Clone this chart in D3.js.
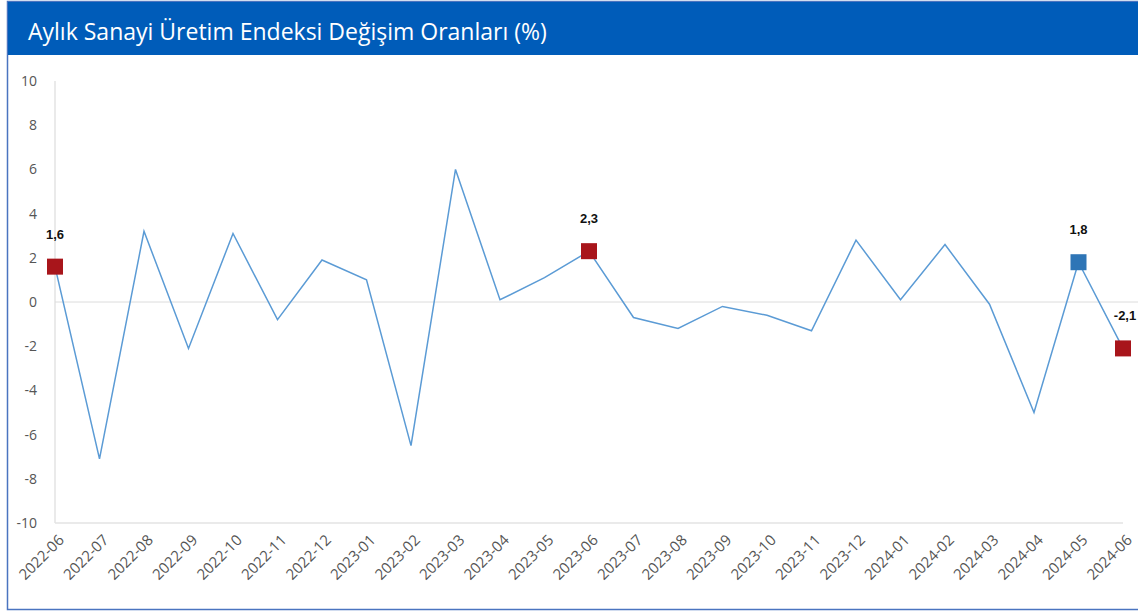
<!DOCTYPE html>
<html>
<head>
<meta charset="utf-8">
<script src="https://cdn.jsdelivr.net/npm/d3@7"></script>
<style>
  body { margin: 0; background: #fff; }
  svg { display: block; font-family: "Open Sans", "Noto Sans", sans-serif; }
</style>
</head>
<body>
<script>
// aylik degisim oranlari
var months = ["2022-06","2022-07","2022-08","2022-09","2022-10","2022-11","2022-12",
  "2023-01","2023-02","2023-03","2023-04","2023-05","2023-06","2023-07","2023-08",
  "2023-09","2023-10","2023-11","2023-12","2024-01","2024-02","2024-03","2024-04",
  "2024-05","2024-06"];
var values = [1.6,-7.1,3.2,-2.1,3.1,-0.8,1.9,1.0,-6.5,6.0,0.1,1.1,2.3,-0.7,-1.2,
  -0.2,-0.6,-1.3,2.8,0.1,2.6,-0.1,-5.0,1.8,-2.1];
var yTicks = [10,8,6,4,2,0,-2,-4,-6,-8,-10];
// highlighted points (index, color)
var marked = [0, 12, 23, 24];
var markColors = ["#a8151b", "#a8151b", "#2e75b6", "#a8151b"];

var width = 1138, height = 612;
var svg = d3.select("body").append("svg")
  .attr("width", width).attr("height", height);

// frame + title bar
svg.append("rect").attr("x", 7.5).attr("y", 1.5).attr("width", 1140).attr("height", 608)
  .attr("fill", "#fff").attr("stroke", "#4a74c0").attr("stroke-width", 1.5);
svg.append("rect").attr("x", 8).attr("y", 2).attr("width", 1130).attr("height", 53)
  .attr("fill", "#005cb9");
svg.append("text").attr("x", 28).attr("y", 40)
  .attr("fill", "#fff").attr("font-size", "23px")
  .text("Aylık Sanayi Üretim Endeksi Değişim Oranları (%)");

var x = d3.scalePoint().domain(months).range([55, 1123]);
var y = d3.scaleLinear().domain([-10, 10]).range([523, 81]);

// axes lines
svg.append("line").attr("x1", 55).attr("x2", 55).attr("y1", y(10)).attr("y2", y(-10))
  .attr("stroke", "#e3e3e3").attr("stroke-width", 1.5);
svg.append("line").attr("x1", 55).attr("x2", 1123).attr("y1", y(-10)).attr("y2", y(-10))
  .attr("stroke", "#e3e3e3").attr("stroke-width", 1.5);
svg.append("line").attr("x1", 55).attr("x2", 1138).attr("y1", y(0)).attr("y2", y(0))
  .attr("stroke", "#dcdcdc").attr("stroke-width", 1);

// y labels
svg.selectAll(".ytick").data(yTicks).enter().append("text")
  .attr("class", "ytick")
  .attr("x", 37).attr("y", function(d) { return y(d) + 5; })
  .attr("text-anchor", "end")
  .attr("fill", "#555").attr("font-size", "14px")
  .text(function(d) { return d; });

// x labels
svg.selectAll(".xtick").data(months).enter().append("text")
  .attr("class", "xtick")
  .attr("transform", function(d) { return "translate(" + (x(d) + 10) + ",541) rotate(-45)"; })
  .attr("text-anchor", "end")
  .attr("fill", "#555").attr("font-size", "15px")
  .text(function(d) { return d; });

// line
var line = d3.line()
  .x(function(d, i) { return x(months[i]); })
  .y(function(d) { return y(d); });
svg.append("path").datum(values)
  .attr("d", line)
  .attr("fill", "none")
  .attr("stroke", "#5b9bd5")
  .attr("stroke-width", 1.5);

// markers
var g = svg.selectAll(".mark").data(marked).enter().append("g").attr("class", "mark");
g.append("rect")
  .attr("x", function(d) { return x(months[d]) - 8; })
  .attr("y", function(d) { return y(values[d]) - 8; })
  .attr("width", 16).attr("height", 16)
  .attr("fill", function(d, i) { return markColors[i]; });
g.append("text")
  .attr("x", function(d) { return x(months[d]) + (d == 24 ? 2 : 0); })
  .attr("y", function(d) { return y(values[d]) - 28; })
  .attr("text-anchor", "middle")
  .attr("font-family", "Liberation Sans, Arial, sans-serif")
  .attr("font-weight", "bold").attr("font-size", "13px")
  .attr("fill", "#111")
  .text(function(d) { return String(values[d]).replace(".", ","); });
</script>
</body>
</html>
